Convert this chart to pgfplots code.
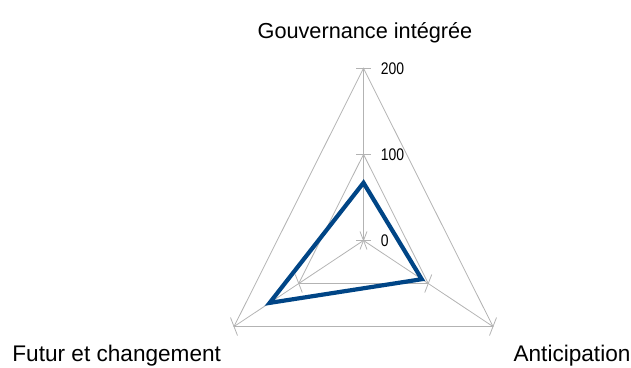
\documentclass[border=0pt]{standalone}
\usepackage{fontspec}
\setmainfont{Liberation Sans}
\newfontfamily\ticknum[FakeStretch=0.83]{Liberation Sans}
\usepackage{pgfplots}
\usepackage{pgfplotstable}
\pgfplotsset{compat=1.18}
\definecolor{gridgray}{HTML}{B3B3B3}
\definecolor{series}{HTML}{004586}

% angle (deg) and score for each category
\pgfplotstableread{
a v
90 67
330 90
210 145
}\scores

\pgfplotstableread{
a v
90 200
330 200
210 200
}\ringtwo

\pgfplotstableread{
a v
90 100
330 100
210 100
}\ringone

\pgfplotsset{
  /pgfplots/table/radar/.style={
    x expr=\thisrow{v}*cos(\thisrow{a}),
    y expr=\thisrow{v}*sin(\thisrow{a})},
}

\begin{document}
\begin{tikzpicture}
\begin{axis}[
  scale only axis,
  width=631bp, height=367bp,
  xmin=-486.2, xmax=357.8,
  ymin=-147.0, ymax=279.4,
  hide axis,
  clip=false,
]
% keep the full canvas as bounding box
\path (rel axis cs:0,0) rectangle (rel axis cs:1,1);

% grid
\addplot[gridgray, line width=0.8bp] table[radar] {\ringtwo} -- cycle;
\addplot[gridgray, line width=0.8bp] table[radar] {\ringone} -- cycle;
\addplot[gridgray, line width=0.8bp] coordinates {(0,0) (0,200)};
\addplot[gridgray, line width=0.8bp] coordinates {(0,0) (173.2,-100)};
\addplot[gridgray, line width=0.8bp] coordinates {(0,0) (-173.2,-100)};

% tick marks
\draw[gridgray, line width=0.8bp] ([xshift=-7.5bp]axis cs:0,0) -- ([xshift=7.5bp]axis cs:0,0);
\draw[gridgray, line width=0.8bp] ([xshift=-7.5bp]axis cs:0,100) -- ([xshift=7.5bp]axis cs:0,100);
\draw[gridgray, line width=0.8bp] ([xshift=-7.5bp]axis cs:0,200) -- ([xshift=7.5bp]axis cs:0,200);
\draw[gridgray, line width=0.8bp] ([shift={(-3.5bp,-9bp)}]axis cs:0,0) -- ([shift={(3.5bp,9bp)}]axis cs:0,0);
\draw[gridgray, line width=0.8bp] ([shift={(-3.5bp,-9bp)}]axis cs:86.6,-50) -- ([shift={(3.5bp,9bp)}]axis cs:86.6,-50);
\draw[gridgray, line width=0.8bp] ([shift={(-3.5bp,-9bp)}]axis cs:173.2,-100) -- ([shift={(3.5bp,9bp)}]axis cs:173.2,-100);
\draw[gridgray, line width=0.8bp] ([shift={(3.5bp,-9bp)}]axis cs:0,0) -- ([shift={(-3.5bp,9bp)}]axis cs:0,0);
\draw[gridgray, line width=0.8bp] ([shift={(3.5bp,-9bp)}]axis cs:-86.6,-50) -- ([shift={(-3.5bp,9bp)}]axis cs:-86.6,-50);
\draw[gridgray, line width=0.8bp] ([shift={(3.5bp,-9bp)}]axis cs:-173.2,-100) -- ([shift={(-3.5bp,9bp)}]axis cs:-173.2,-100);

% series
\addplot[series, line width=4.2bp, line join=miter] table[radar] {\scores} -- cycle;

% tick labels
\foreach \v in {0,100,200}{
  \edef\tmp{\noexpand\node[anchor=west, inner sep=0pt, xshift=17.2bp,
    font=\noexpand\ticknum\noexpand\fontsize{16.8bp}{18bp}\noexpand\selectfont]
    at (axis cs:0,\v) {\v};}
  \tmp
}

% category labels
\node[anchor=base, inner sep=0pt, font=\fontsize{21.7bp}{24bp}\selectfont]
  at (axis cs:2,234.9) {Gouvernance intégrée};
\node[anchor=base, inner sep=0pt, font=\fontsize{22.6bp}{25bp}\selectfont]
  at (axis cs:-330.1,-140.8) {Futur et changement};
\node[anchor=base, inner sep=0pt, font=\fontsize{22.6bp}{25bp}\selectfont]
  at (axis cs:278.9,-140.8) {Anticipation};
\end{axis}
\end{tikzpicture}
\end{document}
